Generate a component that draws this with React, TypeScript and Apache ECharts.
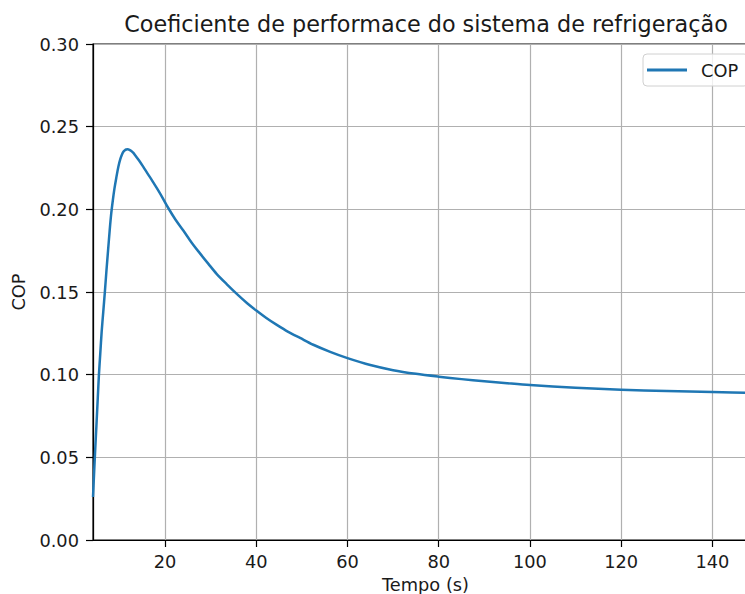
import React, { useEffect, useRef } from "react";
import * as echarts from "echarts";

const tempo: number[] = [4.2, 4.4, 4.6, 4.8, 5.0, 5.25, 5.5, 5.8, 6.1, 6.45, 6.8, 7.15, 7.5, 7.85, 8.2, 8.55, 8.9, 9.3, 9.76, 10.2, 10.6, 10.9, 11.2, 11.5, 11.8, 12.2, 12.6, 13.0, 13.4, 14.3, 15.2, 16.1, 17.1, 18.2, 19.3, 20.7, 22.3, 24.0, 25.8, 27.7, 29.5, 31.3, 33.5, 35.9, 38.0, 40.0, 42.2, 44.5, 47.0, 49.6, 52.5, 56.2, 60.0, 65.0, 70.0, 75.0, 80.0, 85.0, 90.0, 95.0, 100.0, 110.0, 120.0, 130.0, 140.0, 150.0];
const cop: number[] = [0.026, 0.038, 0.05, 0.061, 0.072, 0.086, 0.1, 0.113, 0.126, 0.138, 0.15, 0.163, 0.175, 0.187, 0.1975, 0.2055, 0.2125, 0.219, 0.2258, 0.2305, 0.2335, 0.235, 0.2358, 0.2362, 0.2363, 0.236, 0.2353, 0.2343, 0.2329, 0.2295, 0.2258, 0.2219, 0.2177, 0.2128, 0.2077, 0.2008, 0.1937, 0.1872, 0.18, 0.1732, 0.167, 0.161, 0.1548, 0.1484, 0.1432, 0.1388, 0.1343, 0.1301, 0.1259, 0.1222, 0.1181, 0.1138, 0.11, 0.1058, 0.1027, 0.1005, 0.0988, 0.0973, 0.096, 0.0948, 0.0937, 0.0921, 0.0909, 0.0901, 0.0895, 0.0889];

const FONT = "DejaVu Sans";
const TXT = "#1a1a1a";
const FS = 17.8;

export default function App() {
  const ref = useRef<HTMLDivElement>(null);
  useEffect(() => {
    if (!ref.current) return;
    const chart = echarts.init(ref.current, undefined, { renderer: "svg" });
    chart.setOption({
      animation: false,
      backgroundColor: "#ffffff",
      title: {
        text: "Coeficiente de performace do sistema de refrigeração",
        left: 421,
        textAlign: "center",
        top: 8,
        textStyle: { fontFamily: FONT, fontSize: 22.3, fontWeight: "normal", color: TXT },
      },
      legend: {
        left: 643,
        top: 54,
        data: [{ name: "COP", icon: "rect" }],
        itemWidth: 40,
        itemHeight: 3,
        padding: [7, 10, 7, 4],
        borderColor: "#d0d0d0",
        borderWidth: 1,
        borderRadius: 4,
        backgroundColor: "rgba(255,255,255,0.8)",
        textStyle: { fontFamily: FONT, fontSize: FS, color: TXT, padding: [0, 0, 0, 9] },
      },
      grid: {
        left: 93,
        top: 44,
        width: 665,
        height: 496,
        show: true,
        borderColor: "#000",
        borderWidth: 1.2,
        containLabel: false,
        outerBoundsMode: "none",
      },
      xAxis: {
        type: "value",
        min: 4.2,
        max: 150,
        splitNumber: 7,
        name: "Tempo (s)",
        nameLocation: "middle",
        nameGap: 35,
        nameTextStyle: { fontFamily: FONT, fontSize: FS, color: TXT },
        axisLine: { show: true, lineStyle: { color: "#000", width: 1.2 } },
        axisTick: { show: true, length: 7, lineStyle: { color: "#000", width: 1.2 } },
        axisLabel: {
          showMinLabel: false,
          showMaxLabel: false,
          margin: 12,
          fontFamily: FONT,
          fontSize: FS,
          color: TXT,
        },
        splitLine: { show: true, lineStyle: { color: "#b0b0b0", width: 1.2 } },
      },
      yAxis: {
        type: "value",
        min: 0,
        max: 0.3,
        interval: 0.05,
        name: "COP",
        nameLocation: "middle",
        nameGap: 66,
        nameTextStyle: { fontFamily: FONT, fontSize: FS, color: TXT },
        axisLine: { show: true, lineStyle: { color: "#000", width: 1.2 } },
        axisTick: { show: true, length: 7, lineStyle: { color: "#000", width: 1.2 } },
        axisLabel: {
          margin: 14,
          fontFamily: FONT,
          fontSize: FS,
          color: TXT,
          formatter: (v: number) => v.toFixed(2),
        },
        splitLine: { show: true, lineStyle: { color: "#b0b0b0", width: 1.2 } },
      },
      series: [
        {
          name: "COP",
          type: "line",
          data: tempo.map((t, i) => [t, cop[i]]),
          smooth: 0.3,
          showSymbol: false,
          symbol: "none",
          clip: true,
          lineStyle: { color: "#1f77b4", width: 2.5, join: "round" },
          itemStyle: { color: "#1f77b4" },
        },
      ],
    });
    return () => chart.dispose();
  }, []);
  return (
    <div style={{ position: "absolute", left: 0, top: 0, width: 745, height: 594, overflow: "hidden", background: "#fff" }}>
      <div ref={ref} style={{ width: 800, height: 594 }} />
    </div>
  );
}
